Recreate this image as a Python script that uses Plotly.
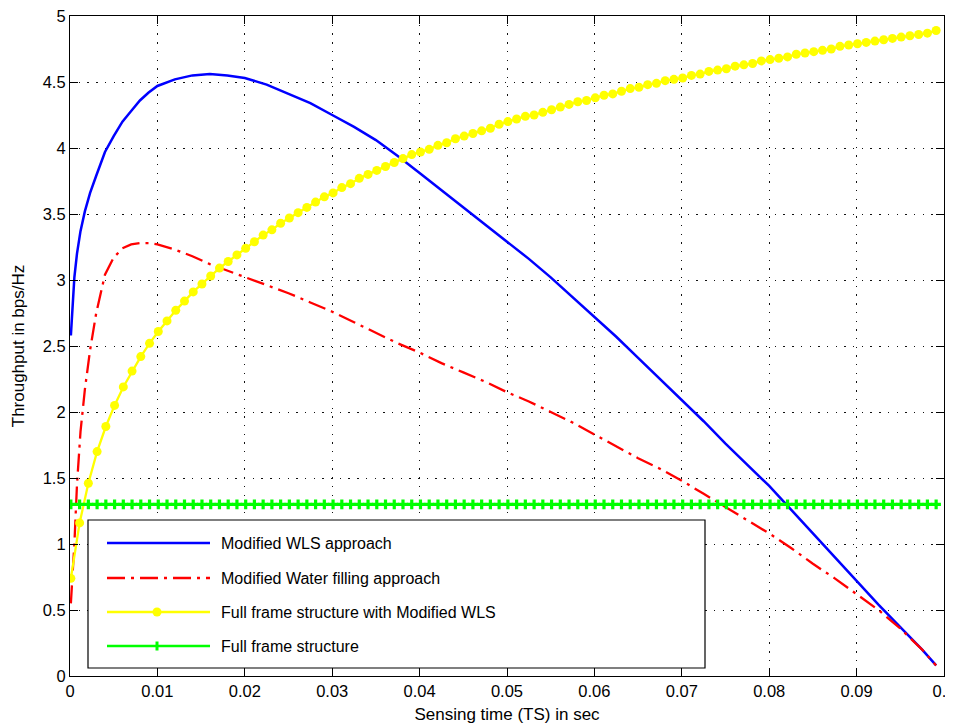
import plotly.graph_objects as go

# ---------------- data ----------------
# sensing-time sweep used for the marker curves (s)
ts = [0.0001, 0.0011, 0.0021, 0.0031, 0.0041, 0.0051, 0.0061, 0.0071, 0.0081, 0.0091,
      0.0101, 0.0111, 0.0121, 0.0131, 0.0141, 0.0151, 0.0161, 0.0171, 0.0181, 0.0191,
      0.0201, 0.0211, 0.0221, 0.0231, 0.0241, 0.0251, 0.0261, 0.0271, 0.0281, 0.0291,
      0.0301, 0.0311, 0.0321, 0.0331, 0.0341, 0.0351, 0.0361, 0.0371, 0.0381, 0.0391,
      0.0401, 0.0411, 0.0421, 0.0431, 0.0441, 0.0451, 0.0461, 0.0471, 0.0481, 0.0491,
      0.0501, 0.0511, 0.0521, 0.0531, 0.0541, 0.0551, 0.0561, 0.0571, 0.0581, 0.0591,
      0.0601, 0.0611, 0.0621, 0.0631, 0.0641, 0.0651, 0.0661, 0.0671, 0.0681, 0.0691,
      0.0701, 0.0711, 0.0721, 0.0731, 0.0741, 0.0751, 0.0761, 0.0771, 0.0781, 0.0791,
      0.0801, 0.0811, 0.0821, 0.0831, 0.0841, 0.0851, 0.0861, 0.0871, 0.0881, 0.0891,
      0.0901, 0.0911, 0.0921, 0.0931, 0.0941, 0.0951, 0.0961, 0.0971, 0.0981, 0.0991]

full_frame_wls = [0.74, 1.16, 1.46, 1.70, 1.89, 2.05, 2.19, 2.31, 2.42, 2.52,
                  2.61, 2.69, 2.77, 2.84, 2.91, 2.97, 3.03, 3.09, 3.14, 3.19,
                  3.24, 3.29, 3.34, 3.38, 3.43, 3.47, 3.51, 3.55, 3.59, 3.63,
                  3.66, 3.70, 3.73, 3.77, 3.80, 3.83, 3.86, 3.89, 3.92, 3.95,
                  3.97, 3.99, 4.02, 4.04, 4.07, 4.09, 4.11, 4.13, 4.15, 4.18,
                  4.20, 4.22, 4.24, 4.25, 4.27, 4.29, 4.31, 4.33, 4.35, 4.36,
                  4.38, 4.40, 4.41, 4.43, 4.45, 4.46, 4.48, 4.49, 4.51, 4.52,
                  4.53, 4.55, 4.56, 4.58, 4.59, 4.60, 4.62, 4.63, 4.64, 4.66,
                  4.67, 4.68, 4.69, 4.71, 4.72, 4.73, 4.74, 4.75, 4.77, 4.78,
                  4.79, 4.80, 4.81, 4.82, 4.83, 4.84, 4.85, 4.86, 4.87, 4.89]

full_frame = [1.3, 1.3, 1.3, 1.3, 1.3, 1.3, 1.3, 1.3, 1.3, 1.3,
              1.3, 1.3, 1.3, 1.3, 1.3, 1.3, 1.3, 1.3, 1.3, 1.3,
              1.3, 1.3, 1.3, 1.3, 1.3, 1.3, 1.3, 1.3, 1.3, 1.3,
              1.3, 1.3, 1.3, 1.3, 1.3, 1.3, 1.3, 1.3, 1.3, 1.3,
              1.3, 1.3, 1.3, 1.3, 1.3, 1.3, 1.3, 1.3, 1.3, 1.3,
              1.3, 1.3, 1.3, 1.3, 1.3, 1.3, 1.3, 1.3, 1.3, 1.3,
              1.3, 1.3, 1.3, 1.3, 1.3, 1.3, 1.3, 1.3, 1.3, 1.3,
              1.3, 1.3, 1.3, 1.3, 1.3, 1.3, 1.3, 1.3, 1.3, 1.3,
              1.3, 1.3, 1.3, 1.3, 1.3, 1.3, 1.3, 1.3, 1.3, 1.3,
              1.3, 1.3, 1.3, 1.3, 1.3, 1.3, 1.3, 1.3, 1.3, 1.3]

# sensing-time samples for the smooth curves (s)
ts_fine = [0.0001, 0.0003, 0.0005, 0.0008, 0.0012, 0.0017, 0.0023, 0.003,
           0.004, 0.005, 0.006, 0.007, 0.008, 0.009, 0.010,
           0.012, 0.014, 0.016, 0.018, 0.020,
           0.0225, 0.025, 0.0275, 0.030, 0.0325, 0.035, 0.0375, 0.040, 0.0425, 0.045,
           0.0475, 0.050, 0.0525, 0.055, 0.0575, 0.060, 0.0625, 0.065, 0.0675, 0.070,
           0.0725, 0.075, 0.0775, 0.080, 0.0825, 0.085, 0.0875, 0.090, 0.0925, 0.095,
           0.0975, 0.0991]

modified_wls = [2.58, 2.85, 3.02, 3.20, 3.37, 3.52, 3.66, 3.79,
                3.97, 4.09, 4.20, 4.28, 4.36, 4.42, 4.47,
                4.52, 4.55, 4.56, 4.55, 4.53,
                4.48, 4.41, 4.34, 4.25, 4.16, 4.06, 3.94, 3.81, 3.68, 3.55,
                3.42, 3.29, 3.16, 3.02, 2.87, 2.72, 2.57, 2.41, 2.25, 2.09,
                1.93, 1.76, 1.60, 1.44, 1.26, 1.08, 0.90, 0.72, 0.54, 0.37,
                0.20, 0.08]

modified_wf = [0.55, 0.75, 1.00, 1.45, 1.85, 2.17, 2.47, 2.75,
               3.04, 3.17, 3.24, 3.27, 3.28, 3.28, 3.27,
               3.23, 3.18, 3.12, 3.07, 3.02,
               2.96, 2.90, 2.83, 2.76, 2.68, 2.60, 2.52, 2.45, 2.37, 2.30,
               2.23, 2.15, 2.08, 2.00, 1.92, 1.83, 1.74, 1.65, 1.57, 1.48,
               1.38, 1.28, 1.18, 1.08, 0.97, 0.85, 0.74, 0.62, 0.50, 0.36,
               0.20, 0.08]

series_names = ["Modified WLS approach",
                "Modified Water filling approach",
                "Full frame structure with Modified WLS",
                "Full frame structure"]

x_tick_vals = [0, 0.01, 0.02, 0.03, 0.04, 0.05, 0.06, 0.07, 0.08, 0.09, 0.1]
x_tick_text = ["0", "0.01", "0.02", "0.03", "0.04", "0.05", "0.06", "0.07", "0.08", "0.09", "0.1"]
y_tick_vals = [0, 0.5, 1, 1.5, 2, 2.5, 3, 3.5, 4, 4.5, 5]
y_tick_text = ["0", "0.5", "1", "1.5", "2", "2.5", "3", "3.5", "4", "4.5", "5"]

# ---------------- figure ----------------
# the page body has an 8px default margin, so the figure is made 8px smaller
OFF = 8
W, H = 953 - OFF, 724 - OFF
ML, MR, MT, MB = 70 - OFF, 9, 16 - OFF, 48
PW, PH = W - ML - MR, H - MT - MB
FONT = "Liberation Sans, Arial, Helvetica, sans-serif"

BLUE, RED, YELLOW, GREEN = "#0000ff", "#ff0000", "#ffff00", "#00ff00"
RED_DASH = "18px,6px,3px,6px"


def px(p):
    """page pixel x -> paper coordinate"""
    return (p - OFF - ML) / PW


def py(p):
    """page pixel y -> paper coordinate"""
    return (H - MB - (p - OFF)) / PH


fig = go.Figure()
fig.add_trace(go.Scatter(x=ts_fine, y=modified_wls, mode="lines", name=series_names[0],
                         line=dict(color=BLUE, width=2.5), showlegend=False))
fig.add_trace(go.Scatter(x=ts_fine, y=modified_wf, mode="lines", name=series_names[1],
                         line=dict(color=RED, width=2.3, dash=RED_DASH), showlegend=False))
fig.add_trace(go.Scatter(x=ts, y=full_frame_wls, mode="lines+markers", name=series_names[2],
                         line=dict(color=YELLOW, width=2.3),
                         marker=dict(symbol="circle", size=9, color=YELLOW, line=dict(width=0)),
                         showlegend=False))
fig.add_trace(go.Scatter(x=ts, y=full_frame, mode="lines+markers", name=series_names[3],
                         line=dict(color=GREEN, width=2.3),
                         marker=dict(symbol="cross", size=8, color=GREEN, line=dict(width=0)),
                         showlegend=False))

# ----- legend drawn as a MATLAB-style box -----
shapes = []
annotations = []
shapes.append(dict(type="rect", xref="paper", yref="paper",
                   x0=px(88), x1=px(705), y0=py(668), y1=py(520),
                   fillcolor="white", line=dict(color="black", width=1.2), layer="above"))
rows = [543, 578, 612, 646]
styles = [dict(color=BLUE, width=2.5), dict(color=RED, width=2.5, dash=RED_DASH),
          dict(color=YELLOW, width=2.5), dict(color=GREEN, width=2.5)]
for r, st, name in zip(rows, styles, series_names):
    shapes.append(dict(type="line", xref="paper", yref="paper",
                       x0=px(107), x1=px(210), y0=py(r), y1=py(r), line=st, layer="above"))
    annotations.append(dict(xref="paper", yref="paper", x=px(219), y=py(r),
                            text=name, showarrow=False, xanchor="left", yanchor="middle",
                            font=dict(family=FONT, size=16, color="black")))
# legend marker glyphs
shapes.append(dict(type="circle", xref="paper", yref="paper",
                   x0=px(152.5), x1=px(161.5), y0=py(rows[2] + 4.5), y1=py(rows[2] - 4.5),
                   fillcolor=YELLOW, line=dict(width=0), layer="above"))
shapes.append(dict(type="line", xref="paper", yref="paper",
                   x0=px(157), x1=px(157), y0=py(rows[3] + 4.5), y1=py(rows[3] - 4.5),
                   line=dict(color=GREEN, width=3), layer="above"))

axis_common = dict(
    showline=True, linecolor="black", linewidth=1.2, mirror="allticks",
    ticks="inside", ticklen=8, tickwidth=1, tickcolor="black",
    showgrid=True, gridcolor="#111111", gridwidth=1.2, griddash="1.4px,7.3px",
    zeroline=False, automargin=False, ticklabeloverflow="allow",
    tickfont=dict(family=FONT, size=16.5, color="black"),
)

fig.update_layout(
    width=W, height=H,
    margin=dict(l=ML, r=MR, t=MT, b=MB, pad=0),
    paper_bgcolor="white", plot_bgcolor="white",
    font=dict(family=FONT, size=16.5, color="black"),
    xaxis=dict(range=[0, 0.1], tickvals=x_tick_vals, ticktext=x_tick_text,
               title=dict(text="Sensing time (TS) in sec", standoff=10,
                          font=dict(family=FONT, size=17, color="black")),
               **axis_common),
    yaxis=dict(range=[0, 5], tickvals=y_tick_vals, ticktext=y_tick_text,
               title=dict(text="Throughput in bps/Hz", standoff=13,
                          font=dict(family=FONT, size=17, color="black")),
               **axis_common),
    shapes=shapes,
    annotations=annotations,
    showlegend=False,
)

fig.write_html("out.html")
